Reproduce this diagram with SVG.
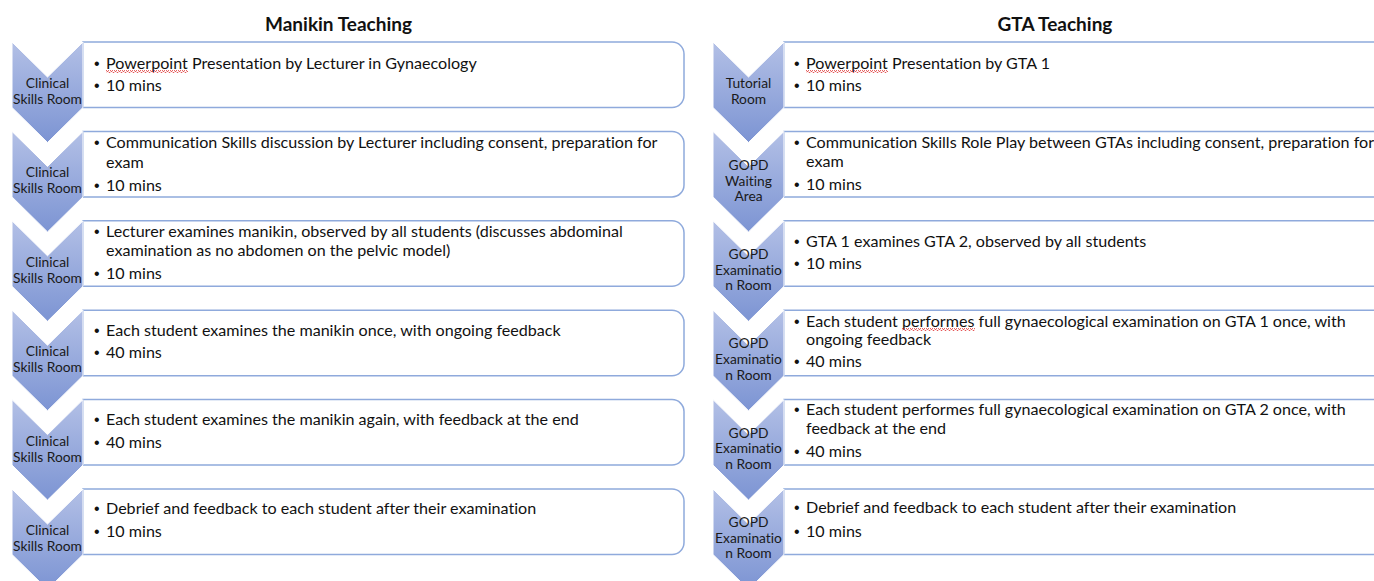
<svg xmlns="http://www.w3.org/2000/svg" width="1374" height="581" viewBox="0 0 1374 581">
<defs>
<linearGradient id="chev" x1="0" y1="0" x2="0" y2="1">
<stop offset="0" stop-color="#B3C0E6"/>
<stop offset="1" stop-color="#7C94D3"/>
</linearGradient>
<pattern id="squig" width="4" height="3" patternUnits="userSpaceOnUse">
<polyline points="0,2.5 1,0.5 2,0.5 3,2.5 4,2.5" fill="none" stroke="#E03C3C" stroke-width="0.8"/>
</pattern>
<path id="chevL" d="M0,0 L35.5,35 L71,0 L71,65.5 L35.5,100.5 L0,65.5 Z"/>
</defs>
<style>
text{font-variant-ligatures:none}
.chev{fill:url(#chev);stroke:#FFFFFF;stroke-width:1}
.box{fill:#FFFFFF;stroke:#8FAADC;stroke-width:1.5}
.t{font-family:Lato,"Liberation Sans",sans-serif;font-size:16.1px;fill:#111111}
.b{font-family:"Liberation Sans",sans-serif;font-size:16px;fill:#111111}
.lab{font-family:Lato,"Liberation Sans",sans-serif;font-size:13.8px;fill:#1a1a1a;text-anchor:middle}
.title{font-family:Lato,"Liberation Sans",sans-serif;font-size:19px;font-weight:bold;fill:#111111;text-anchor:middle}
.sq{fill:url(#squig)}
</style>
<rect width="1374" height="581" fill="#FFFFFF"/>

<g id="titles">
<text class="title" x="338.5" y="31">Manikin Teaching</text>
<text class="title" x="1055" y="31">GTA Teaching</text>
</g>

<g id="connectors"></g>

<!-- Left column -->
<g id="L1">
<path class="box" d="M83,42 H672 A12,12 0 0 1 684,54 V95.5 A12,12 0 0 1 672,107.5 H83 Z"/>
<use href="#chevL" class="chev" x="12" y="42"/>
<text class="lab" x="47.5" y="88">Clinical</text>
<text class="lab" x="47.5" y="104">Skills Room</text>
<text class="b" x="94" y="68.5">•</text><text class="t" x="106" y="68.5">Powerpoint Presentation by Lecturer in Gynaecology</text>
<rect class="sq" x="106" y="70" width="82" height="3"/>
<text class="b" x="94" y="91">•</text><text class="t" x="106" y="91">10 mins</text>
</g>

<g id="L2">
<path class="box" d="M83,131.4 H672 A12,12 0 0 1 684,143.4 V184.9 A12,12 0 0 1 672,196.9 H83 Z"/>
<use href="#chevL" class="chev" x="12" y="131.4"/>
<text class="lab" x="47.5" y="177.4">Clinical</text>
<text class="lab" x="47.5" y="193.4">Skills Room</text>
<text class="b" x="94" y="148.3">•</text><text class="t" x="106" y="148.3">Communication Skills discussion by Lecturer including consent, preparation for</text>
<text class="t" x="106" y="167.7">exam</text>
<text class="b" x="94" y="190.7">•</text><text class="t" x="106" y="190.7">10 mins</text>
</g>

<g id="L3">
<path class="box" d="M83,220.8 H672 A12,12 0 0 1 684,232.8 V274.3 A12,12 0 0 1 672,286.3 H83 Z"/>
<use href="#chevL" class="chev" x="12" y="220.8"/>
<text class="lab" x="47.5" y="266.8">Clinical</text>
<text class="lab" x="47.5" y="282.8">Skills Room</text>
<text class="b" x="94" y="237">•</text><text class="t" x="106" y="237">Lecturer examines manikin, observed by all students (discusses abdominal</text>
<text class="t" x="106" y="256">examination as no abdomen on the pelvic model)</text>
<text class="b" x="94" y="279">•</text><text class="t" x="106" y="279">10 mins</text>
</g>

<g id="L4">
<path class="box" d="M83,310.2 H672 A12,12 0 0 1 684,322.2 V363.7 A12,12 0 0 1 672,375.7 H83 Z"/>
<use href="#chevL" class="chev" x="12" y="310.2"/>
<text class="lab" x="47.5" y="356.2">Clinical</text>
<text class="lab" x="47.5" y="372.2">Skills Room</text>
<text class="b" x="94" y="335.5">•</text><text class="t" x="106" y="335.5">Each student examines the manikin once, with ongoing feedback</text>
<text class="b" x="94" y="358">•</text><text class="t" x="106" y="358">40 mins</text>
</g>

<g id="L5">
<path class="box" d="M83,399.6 H672 A12,12 0 0 1 684,411.6 V453.1 A12,12 0 0 1 672,465.1 H83 Z"/>
<use href="#chevL" class="chev" x="12" y="399.6"/>
<text class="lab" x="47.5" y="445.6">Clinical</text>
<text class="lab" x="47.5" y="461.6">Skills Room</text>
<text class="b" x="94" y="425">•</text><text class="t" x="106" y="425">Each student examines the manikin again, with feedback at the end</text>
<text class="b" x="94" y="447.5">•</text><text class="t" x="106" y="447.5">40 mins</text>
</g>

<g id="L6">
<path class="box" d="M83,489 H672 A12,12 0 0 1 684,501 V542.5 A12,12 0 0 1 672,554.5 H83 Z"/>
<use href="#chevL" class="chev" x="12" y="489"/>
<text class="lab" x="47.5" y="535">Clinical</text>
<text class="lab" x="47.5" y="551">Skills Room</text>
<text class="b" x="94" y="514">•</text><text class="t" x="106" y="514">Debrief and feedback to each student after their examination</text>
<text class="b" x="94" y="536.7">•</text><text class="t" x="106" y="536.7">10 mins</text>
</g>

<!-- Right column -->
<g id="R1">
<path class="box" d="M784,42 H1390 A12,12 0 0 1 1402,54 V95.5 A12,12 0 0 1 1390,107.5 H784 Z"/>
<use href="#chevL" class="chev" x="713" y="42"/>
<text class="lab" x="748.5" y="88">Tutorial</text>
<text class="lab" x="748.5" y="104">Room</text>
<text class="b" x="794" y="68.5">•</text><text class="t" x="806" y="68.5">Powerpoint Presentation by GTA 1</text>
<rect class="sq" x="806" y="70" width="82" height="3"/>
<text class="b" x="794" y="91">•</text><text class="t" x="806" y="91">10 mins</text>
</g>

<g id="R2">
<path class="box" d="M784,131.4 H1390 A12,12 0 0 1 1402,143.4 V184.9 A12,12 0 0 1 1390,196.9 H784 Z"/>
<use href="#chevL" class="chev" x="713" y="131.4"/>
<text class="lab" x="748.5" y="170">GOPD</text>
<text class="lab" x="748.5" y="185.7">Waiting</text>
<text class="lab" x="748.5" y="201">Area</text>
<text class="b" x="794" y="148.3">•</text><text class="t" x="806" y="148.3">Communication Skills Role Play between GTAs including consent, preparation for</text>
<text class="t" x="806" y="166.7">exam</text>
<text class="b" x="794" y="190">•</text><text class="t" x="806" y="190">10 mins</text>
</g>

<g id="R3">
<path class="box" d="M784,220.8 H1390 A12,12 0 0 1 1402,232.8 V274.3 A12,12 0 0 1 1390,286.3 H784 Z"/>
<use href="#chevL" class="chev" x="713" y="220.8"/>
<text class="lab" x="748.5" y="258.8">GOPD</text>
<text class="lab" x="748.5" y="274.5">Examinatio</text>
<text class="lab" x="748.5" y="290.2">n Room</text>
<text class="b" x="794" y="246.5">•</text><text class="t" x="806" y="246.5">GTA 1 examines GTA 2, observed by all students</text>
<text class="b" x="794" y="269">•</text><text class="t" x="806" y="269">10 mins</text>
</g>

<g id="R4">
<path class="box" d="M784,310.2 H1390 A12,12 0 0 1 1402,322.2 V363.7 A12,12 0 0 1 1390,375.7 H784 Z"/>
<use href="#chevL" class="chev" x="713" y="310.2"/>
<text class="lab" x="748.5" y="348.2">GOPD</text>
<text class="lab" x="748.5" y="363.9">Examinatio</text>
<text class="lab" x="748.5" y="379.6">n Room</text>
<text class="b" x="794" y="326.7">•</text><text class="t" x="806" y="326.7">Each student performes full gynaecological examination on GTA 1 once, with</text>
<rect class="sq" x="902" y="328" width="73" height="3"/>
<text class="t" x="806" y="345">ongoing feedback</text>
<text class="b" x="794" y="367.3">•</text><text class="t" x="806" y="367.3">40 mins</text>
</g>

<g id="R5">
<path class="box" d="M784,399.6 H1390 A12,12 0 0 1 1402,411.6 V453.1 A12,12 0 0 1 1390,465.1 H784 Z"/>
<use href="#chevL" class="chev" x="713" y="399.6"/>
<text class="lab" x="748.5" y="437.6">GOPD</text>
<text class="lab" x="748.5" y="453.3">Examinatio</text>
<text class="lab" x="748.5" y="469">n Room</text>
<text class="b" x="794" y="415">•</text><text class="t" x="806" y="415">Each student performes full gynaecological examination on GTA 2 once, with</text>
<text class="t" x="806" y="434">feedback at the end</text>
<text class="b" x="794" y="456.7">•</text><text class="t" x="806" y="456.7">40 mins</text>
</g>

<g id="R6">
<path class="box" d="M784,489 H1390 A12,12 0 0 1 1402,501 V542.5 A12,12 0 0 1 1390,554.5 H784 Z"/>
<use href="#chevL" class="chev" x="713" y="489"/>
<text class="lab" x="748.5" y="527">GOPD</text>
<text class="lab" x="748.5" y="542.7">Examinatio</text>
<text class="lab" x="748.5" y="558.4">n Room</text>
<text class="b" x="794" y="513.3">•</text><text class="t" x="806" y="513.3">Debrief and feedback to each student after their examination</text>
<text class="b" x="794" y="536.7">•</text><text class="t" x="806" y="536.7">10 mins</text>
</g>
</svg>
